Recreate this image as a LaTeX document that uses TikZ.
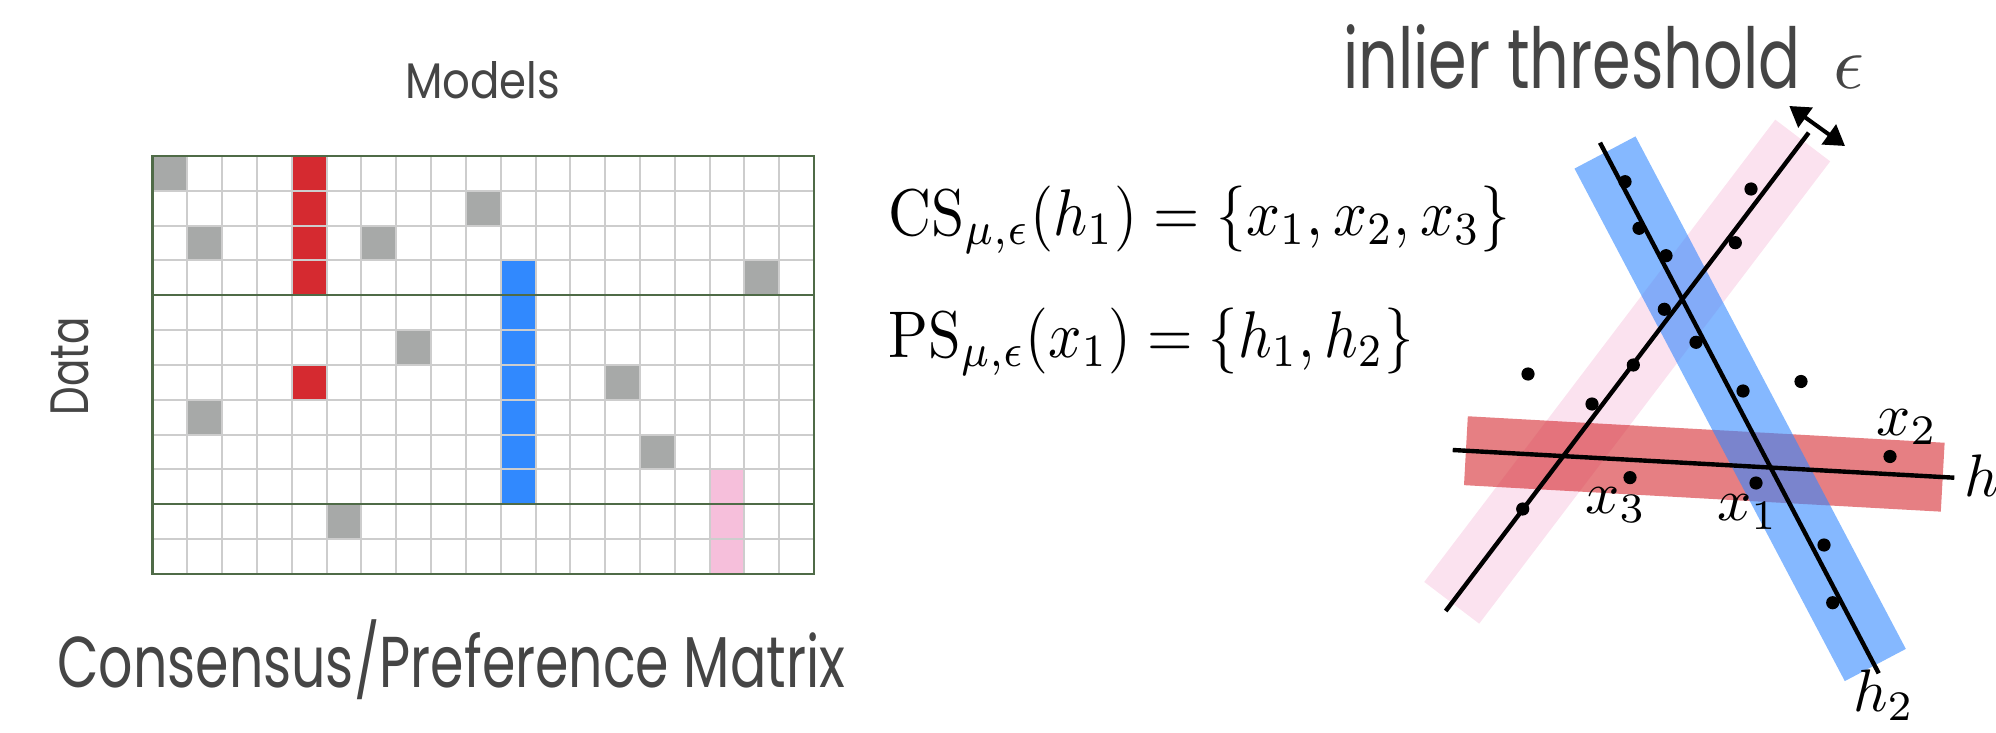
\documentclass[tikz,border=0pt]{standalone}
\usepackage{fontspec}
\usepackage{graphicx}
\usetikzlibrary{arrows.meta}
\newfontfamily\futura{Poppins}
\newlength\upx \setlength\upx{0.5pt}
\definecolor{txtgray}{HTML}{454545}
\definecolor{gridgray}{HTML}{CDCDCD}
\definecolor{gridgreen}{HTML}{4F6B47}
\definecolor{cellgray}{HTML}{A7A9A8}
\definecolor{cellred}{HTML}{D52A30}
\definecolor{cellblue}{HTML}{3189FE}
\definecolor{cellpink}{HTML}{F6BFDB}
\definecolor{bandblue}{HTML}{3388FF}
\begin{document}
\begin{tikzpicture}[x=0.5pt,y=-0.5pt,
  sanslabel/.style={inner sep=0pt,text=txtgray},
  mathlabel/.style={inner sep=0pt,anchor=base west},
  gridline/.style={gridgray,line width=1pt},
  greenline/.style={gridgreen,line width=1.1pt},
  band/.style={line width=34.5pt},
  hline/.style={line width=2.2pt,line cap=butt},
  dot/.style={fill=black}]
\useasboundingbox (0,0) rectangle (1996,733);
\clip (0,0) rectangle (1996,733);
% ---- matrix cells
\foreach \c/\r/\col in {0/0/cellgray,9/1/cellgray,1/2/cellgray,6/2/cellgray,17/3/cellgray,
  7/5/cellgray,13/6/cellgray,1/7/cellgray,14/8/cellgray,5/10/cellgray,
  4/0/cellred,4/1/cellred,4/2/cellred,4/3/cellred,4/6/cellred,
  10/3/cellblue,10/4/cellblue,10/5/cellblue,10/6/cellblue,10/7/cellblue,10/8/cellblue,10/9/cellblue,
  16/9/cellpink,16/10/cellpink,16/11/cellpink}
  \fill[\col] ({152.5+\c*34.82},{156+\r*34.82}) rectangle ++(34.82,34.82);
\foreach \i in {1,...,18}
  \draw[gridline] ({152.5+\i*34.82},156) -- ++(0,417.8);
\foreach \j in {1,2,3,5,6,7,8,9,11}
  \draw[gridline] (152.5,{156+\j*34.82}) -- ++(661.6,0);
\draw[greenline] (152.5,156) rectangle (814.1,573.8);
\draw[greenline] (152.5,{156+4*34.82}) -- ++(661.6,0);
\draw[greenline] (152.5,{156+10*34.82}) -- ++(661.6,0);
% ---- texts left
\node[sanslabel,anchor=base] (models) at (482.5,98.3)
  {\resizebox{155\upx}{\height}{\fontsize{25}{28}\futura Models}};
\node[sanslabel,rotate=90,anchor=base] (data) at (88.3,366)
  {\resizebox{98\upx}{\height}{\fontsize{27}{30}\futura Data}};
\node[sanslabel,anchor=base west] (title) at (56.7,687)
  {\resizebox{788\upx}{\height}{\fontsize{36}{40}\futura Consensus/Preference Matrix}};
% ---- equations
\node[inner sep=0pt,anchor=base west] (cs) at (888,235)
  {\resizebox{622\upx}{3.3\height}{$\mathrm{CS}_{\mu,\epsilon}(h_1)=\{x_1,x_2,x_3\}$}};
\node[inner sep=0pt,anchor=base west] (ps) at (888,357)
  {\resizebox{525\upx}{3.3\height}{$\mathrm{PS}_{\mu,\epsilon}(x_1)=\{h_1,h_2\}$}};
% ---- threshold label
\node[sanslabel,anchor=base west] (thr) at (1343,88.3)
  {\resizebox{457\upx}{\height}{\fontsize{42}{46}\futura inlier threshold}};
\node[inner sep=0pt,anchor=base west,text=txtgray] (eps) at (1833,88.3)
  {\scalebox{3.8}{$\epsilon$}};
% ---- bands
\coordinate (pinkA) at (1802.7,140.5); \coordinate (pinkB) at (1451.7,602.8);
\coordinate (redA) at (1465.9,450.7);   \coordinate (redB) at (1942.7,477.2);
\coordinate (blueA) at (1605,152.5);    \coordinate (blueB) at (1875.3,665);
\draw[band,cellpink,draw opacity=0.45] (pinkA) -- (pinkB);
\draw[band,cellred,draw opacity=0.6] (redA) -- (redB);
\draw[band,bandblue,draw opacity=0.6] (blueA) -- (blueB);
% ---- lines
\coordinate (h2a) at (1600,142.7);   \coordinate (h2b) at (1878.7,673.3);
\coordinate (h3a) at (1808.7,132.7); \coordinate (h3b) at (1445.7,611);
\coordinate (h1a) at (1452.7,450);   \coordinate (h1b) at (1954.3,477.7);
\draw[hline] (h2a) -- (h2b);
\draw[hline] (h3a) -- (h3b);
\draw[hline] (h1a) -- (h1b);
\coordinate (arrA) at (1789.3,106); \coordinate (arrB) at (1845,146);
\draw[line width=2pt,{Triangle[length=10pt,width=12pt]}-{Triangle[length=10pt,width=12pt]}] (arrA) -- (arrB);
% ---- points
\foreach \p in {(1625,181.7),(1639,228.3),(1666,255.7),(1696,342.3),(1743,391),(1824,545),(1832.7,602.7),
  (1751,189),(1735.3,242.7),(1664.3,309.3),(1633.3,365),(1592,404),(1522.7,509),
  (1528,374),(1801,381.5),(1630,477.6),(1756,483),(1890,456.5)}
  \fill[dot] \p circle (3.3pt);
% ---- labels
\node[mathlabel] (lx3) at (1585,513.3) {\scalebox{3}{$x_3$}};
\node[mathlabel] (lx1) at (1716.7,520) {\scalebox{3}{$x_1$}};
\node[mathlabel] (lx2) at (1876,435) {\scalebox{3}{$x_2$}};
\node[mathlabel] (lh1) at (1964,496) {\scalebox{3}{$h_1$}};
\node[mathlabel] (lh2) at (1852.7,711) {\scalebox{3}{$h_2$}};
\end{tikzpicture}
\end{document}
